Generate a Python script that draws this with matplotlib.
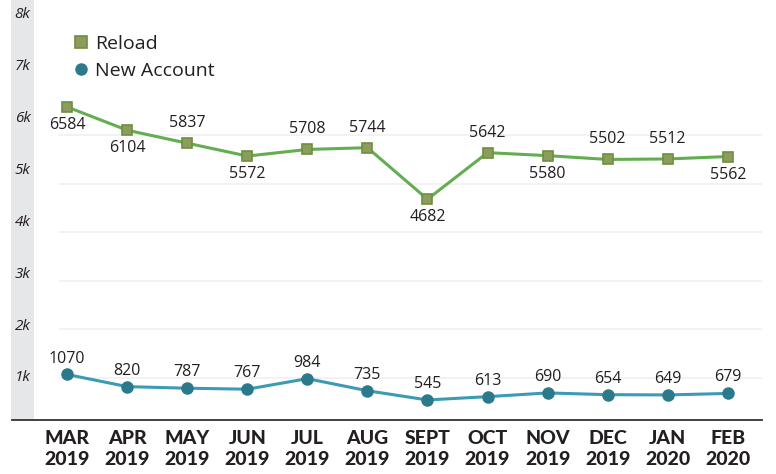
import matplotlib
matplotlib.use("Agg")
import matplotlib.pyplot as plt

# Data
months = ["MAR\n2019", "APR\n2019", "MAY\n2019", "JUN\n2019", "JUL\n2019", "AUG\n2019",
          "SEPT\n2019", "OCT\n2019", "NOV\n2019", "DEC\n2019", "JAN\n2020", "FEB\n2020"]
reload_vals = [6584, 6104, 5837, 5572, 5708, 5744, 4682, 5642, 5580, 5502, 5512, 5562]
new_account = [1070, 820, 787, 767, 984, 735, 545, 613, 690, 654, 649, 679]
# label placement for the Reload series: +1 above, -1 below
reload_side = [-1, -1, 1, -1, 1, 1, -1, 1, -1, 1, 1, -1]
grid_vals = [1000, 2000, 3000, 4000, 5000, 6000]
band_labels = ["1k", "2k", "3k", "4k", "5k", "6k", "7k", "8k"]

GREEN_LINE = "#62AE50"
GREEN_MARK = "#8B9C5C"
GREEN_EDGE = "#6E8F3E"
BLUE_LINE = "#3C9BB4"
BLUE_MARK = "#2B7A8B"
TEXT = "#231F20"

plt.rcParams["font.family"] = ["Open Sans", "DejaVu Sans"]

W, H = 776, 474
fig = plt.figure(figsize=(W / 100, H / 100), dpi=100, facecolor="white")

# gray band holding the y labels
band = fig.add_axes([11 / W, 54 / H, 23 / W, 420 / H])
band.set_facecolor("#E6E7E9")
band.set_xlim(0, 1)
band.set_ylim(0.19, 8.28)
for k, lab in enumerate(band_labels, start=1):
    band.text(0.5, k, lab, ha="center", va="center", fontsize=11,
              style="italic", color=TEXT)
band.set_xticks([])
band.set_yticks([])
for s in band.spines.values():
    s.set_visible(False)

ax = fig.add_axes([12 / W, 54 / H, 750 / W, 420 / H])
ax.patch.set_alpha(0)
x = list(range(len(months)))
ax.set_xlim(-0.918, 11.57)
ax.set_ylim(132, 8788)

ax.hlines(grid_vals, -0.13, 11.57, color="#F0F0F0", lw=1.2, zorder=0)

ax.plot(x, reload_vals, color=GREEN_LINE, lw=2.2, marker="s", ms=7.5,
        mfc=GREEN_MARK, mec=GREEN_EDGE, mew=1.2, label="Reload", zorder=3)
ax.plot(x, new_account, color=BLUE_LINE, lw=2.2, marker="o", ms=8,
        mfc=BLUE_MARK, mec=BLUE_MARK, label="New Account", zorder=3)

for i, (v, side) in enumerate(zip(reload_vals, reload_side)):
    dy = 14.5 if side > 0 else -13
    ax.annotate(str(v), (i, v), xytext=(0, dy), textcoords="offset points",
                ha="center", va="center", fontsize=11.5, color=TEXT)
for i, v in enumerate(new_account):
    ax.annotate(str(v), (i, v), xytext=(0, 11.5), textcoords="offset points",
                ha="center", va="center", fontsize=11.5, color=TEXT)

ax.set_xticks(x)
ax.set_xticklabels(months, fontsize=14, color=TEXT, linespacing=1.3,
                   family=["Lato"])
for t in ax.get_xticklabels():
    t.set_fontweight("black")
ax.tick_params(axis="x", length=0, pad=7)
ax.set_yticks([])
for s in ["top", "right", "left"]:
    ax.spines[s].set_visible(False)
ax.spines["bottom"].set_color("#333333")
ax.spines["bottom"].set_linewidth(1.3)

leg = ax.legend(loc="upper left", bbox_to_anchor=(0.061, 0.958), frameon=False,
                fontsize=14, handlelength=0.6, handletextpad=0.4, labelspacing=0.45)
for t in leg.get_texts():
    t.set_color(TEXT)
for h in leg.legend_handles:
    h.set_linestyle("none")
    h.set_markersize(8)

fig.savefig("out.png", dpi=100, facecolor=fig.get_facecolor())
